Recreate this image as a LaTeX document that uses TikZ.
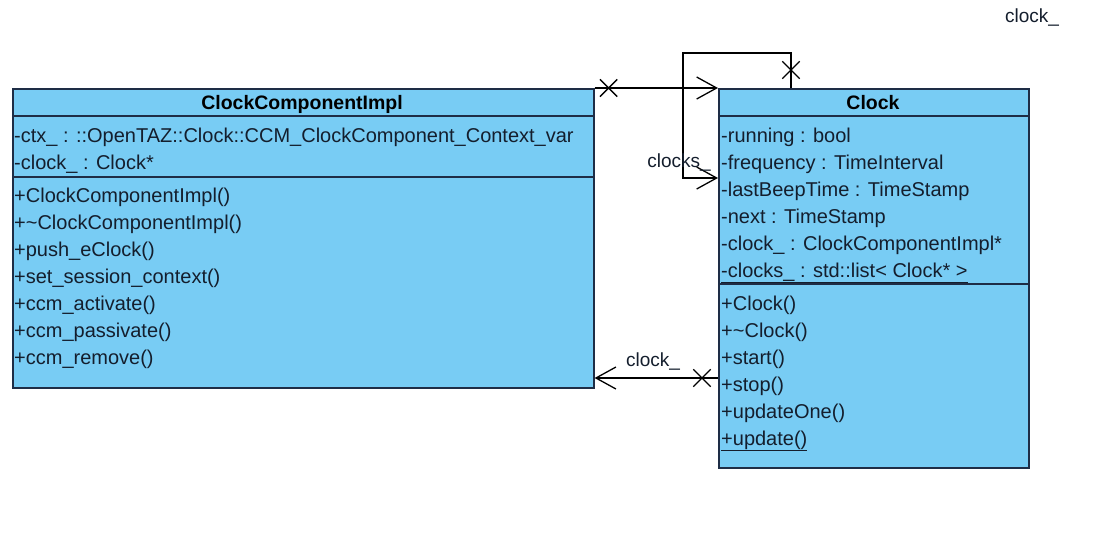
\documentclass[tikz,border=0pt]{standalone}
\usepackage{fontspec}
\setmainfont{Liberation Sans}
\usetikzlibrary{arrows.meta,shapes.misc,calc}
\definecolor{clsfill}{RGB}{120,204,244}
\definecolor{clsline}{RGB}{30,45,70}
\definecolor{txt}{RGB}{20,30,45}
\begin{document}
\begin{tikzpicture}[x=1pt,y=-1pt,
  classbox/.style={draw=clsline, line width=1.6pt, fill=clsfill, anchor=north west, inner sep=0pt},
  member/.style={anchor=base west, inner sep=0pt, text=txt, font=\fontsize{20}{24}\selectfont},
  title/.style={anchor=base, inner sep=0pt, text=black, font=\bfseries\fontsize{19.5}{23}\selectfont},
  sepline/.style={draw=clsline, line width=1.6pt},
  assoc/.style={draw=black, line width=1.3pt, -{Straight Barb[length=20pt,width=22pt,line width=1.3pt]}},
  xmark/.style={cross out, draw=black, line width=1.3pt, minimum size=16pt, inner sep=0pt},
  role/.style={inner sep=0pt, text=txt, font=\fontsize{19}{23}\selectfont}]

\useasboundingbox (0,0) rectangle (1109,547);
\fill[white] (0,0) rectangle (1109,547);

% ---------- ClockComponentImpl ----------
\node[classbox, minimum width=581pt, minimum height=299pt] (cci) at (12,88) {};
\draw[sepline] ([yshift=-28pt]cci.north west) -- ([yshift=-28pt]cci.north east);
\draw[sepline] ([yshift=-89pt]cci.north west) -- ([yshift=-89pt]cci.north east);
\node[title] (cciT) at (302,109) {ClockComponentImpl};
\node[member] (ca1) at (14,142) {-ctx\_ : ::OpenTAZ::Clock::CCM\_ClockComponent\_Context\_var};
\node[member] (ca2) at (14,169) {-clock\_ : Clock*};
\node[member] (cm1) at (14,202) {+ClockComponentImpl()};
\node[member] (cm2) at (14,229) {+\textasciitilde ClockComponentImpl()};
\node[member] (cm3) at (14,256) {+push\_eClock()};
\node[member] (cm4) at (14,283) {+set\_session\_context()};
\node[member] (cm5) at (14,310) {+ccm\_activate()};
\node[member] (cm6) at (14,337) {+ccm\_passivate()};
\node[member] (cm7) at (14,364) {+ccm\_remove()};

% ---------- Clock ----------
\node[classbox, minimum width=310pt, minimum height=379pt] (clk) at (718,88) {};
\draw[sepline] ([yshift=-28pt]clk.north west) -- ([yshift=-28pt]clk.north east);
\draw[sepline] ([yshift=-196pt]clk.north west) -- ([yshift=-196pt]clk.north east);
\node[title] (clkT) at (873,109) {Clock};
\node[member] (ka1) at (721,142) {-running : bool};
\node[member] (ka2) at (721,169) {-frequency : TimeInterval};
\node[member] (ka3) at (721,196) {-lastBeepTime : TimeStamp};
\node[member] (ka4) at (721,223) {-next : TimeStamp};
\node[member] (ka5) at (721,250) {-clock\_ : ClockComponentImpl*};
\node[member] (ka6) at (721,277) {\underline{-clocks\_ : std::list< Clock* >}};
\node[member] (km1) at (721,310) {+Clock()};
\node[member] (km2) at (721,337) {+\textasciitilde Clock()};
\node[member] (km3) at (721,364) {+start()};
\node[member] (km4) at (721,391) {+stop()};
\node[member] (km5) at (721,418) {+updateOne()};
\node[member] (km6) at (721,445) {\underline{+update()}};

% ---------- associations ----------
% ClockComponentImpl -> Clock (top)
\draw[assoc] (cci.north east) -- (clk.north west);
\node[xmark] (x1) at ([xshift=14pt]cci.north east) {};

% Clock self association
\coordinate (lstart) at ([xshift=73pt]clk.north west);
\coordinate (ltop) at (683,53);
\coordinate (lend) at ([yshift=-90pt]clk.north west);
\draw[assoc] (lstart) |- (ltop) |- (lend);
\node[xmark] (x2) at ([yshift=18pt]lstart) {};
\node[role, anchor=east] (r2) at (711,162) {clocks\_};
\node[role] (r3) at (1032,18) {clock\_};

% Clock -> ClockComponentImpl (bottom)
\coordinate (bstart) at ([yshift=-290pt]clk.north west);
\draw[assoc] (bstart) -- (bstart -| cci.east);
\node[xmark] (x3) at ([xshift=-16pt]bstart) {};
\node[role] (r1) at (653,361) {clock\_};
\end{tikzpicture}
\end{document}
